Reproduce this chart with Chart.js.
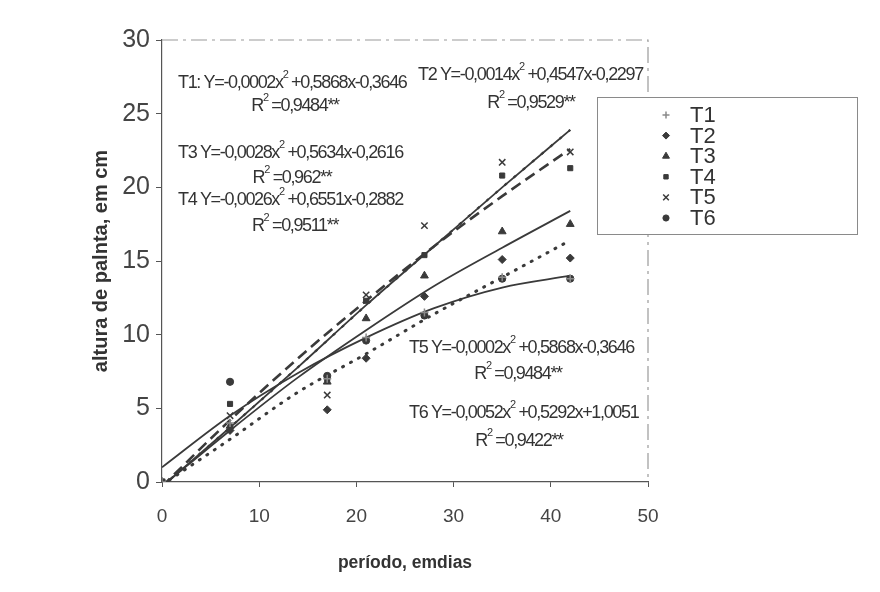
<!DOCTYPE html>
<html>
<head>
<meta charset="utf-8">
<script src="https://cdn.jsdelivr.net/npm/chart.js"></script>
<style>
  html, body { margin: 0; padding: 0; background: #fff; }
  #wrap { width: 880px; height: 592px; }
</style>
</head>
<body>
<div id="wrap"><canvas id="chart" width="880" height="592"></canvas></div>
<script>
// measured points (days after sowing)
const days = [0, 7, 17, 21, 27, 35, 42];
const t1 = [0, 4.0, 7.0, 9.8, 11.5, 13.9, 13.8];
const t2 = [0, 3.5, 4.9, 8.4, 12.6, 15.1, 15.2];
const t3 = [0, 3.8, 6.8, 11.1, 14.0, 17.0, 17.5];
const t4 = [0, 5.3, 7.0, 12.3, 15.4, 20.8, 21.3];
const t5 = [0, 4.5, 5.9, 12.7, 17.4, 21.7, 22.4];
const t6 = [0, 6.8, 7.2, 9.6, 11.3, 13.8, 13.8];

// trend curves
const fitDays = [0, 7, 14, 21, 28, 35, 42];
const fitT1 = [-0.3, 3.7, 7.8, 12.0, 16.0, 20.0, 23.9];
const fitT2 = [-0.2, 2.9, 6.1, 8.7, 11.4, 13.9, 16.4];
const fitT3 = [-0.3, 3.5, 7.1, 10.3, 13.3, 15.9, 18.4];
const fitT4 = [-0.3, 4.2, 8.4, 12.3, 16.0, 19.4, 22.6];
const fitT6 = [1.0, 4.5, 7.4, 9.8, 11.8, 13.2, 14.0];

const seriesNames = ['T1', 'T2', 'T3', 'T4', 'T5', 'T6'];
const yTicks = [0, 5, 10, 15, 20, 25, 30];
const xTicks = [0, 10, 20, 30, 40, 50];

const equations = [
  'T1: Y=-0,0002x^2 +0,5868x-0,3646',
  'T2 Y=-0,0014x^2 +0,4547x-0,2297',
  'T3 Y=-0,0028x^2 +0,5634x-0,2616',
  'T4 Y=-0,0026x^2 +0,6551x-0,2882',
  'T5 Y=-0,0002x^2 +0,5868x-0,3646',
  'T6 Y=-0,0052x^2 +0,5292x+1,0051'
];
const r2Labels = ['R^2 =0,9484**', 'R^2 =0,9529**', 'R^2 =0,962**', 'R^2 =0,9511**', 'R^2 =0,9484**', 'R^2 =0,9422**'];

const ink = '#3a3a3a';
const pts = (ys, xs) => ys.map((y, i) => ({ x: xs[i], y: y }));

const markerStyles = ['cross', 'rectRot', 'triangle', 'rect', 'crossRot', 'circle'];
const markerColors = ['#8a8a8a', ink, ink, ink, ink, ink];
const markerSizes = [4, 4, 4.5, 3.6, 4.5, 3.6];
const seriesData = [t1, t2, t3, t4, t5, t6];

const scatterSets = seriesNames.map((name, i) => ({
  label: name,
  data: pts(seriesData[i], days),
  showLine: false,
  pointStyle: markerStyles[i],
  pointRadius: markerSizes[i],
  pointBorderWidth: (i === 0 || i === 4) ? 1.5 : 1,
  pointBackgroundColor: markerColors[i],
  pointBorderColor: markerColors[i],
  order: 1
}));

const lineBase = { showLine: true, pointRadius: 0, fill: false, borderColor: ink, cubicInterpolationMode: 'monotone', order: 2 };
const fitSets = [
  Object.assign({ label: 'fitT1', data: pts(fitT1, fitDays), borderWidth: 1.8 }, lineBase),
  Object.assign({ label: 'fitT5', data: pts(fitT1, fitDays), borderWidth: 2.2, borderDash: [3, 9] }, lineBase),
  Object.assign({ label: 'fitT2', data: pts(fitT2, fitDays), borderWidth: 3, borderDash: [1, 8], borderCapStyle: 'round' }, lineBase),
  Object.assign({ label: 'fitT3', data: pts(fitT3, fitDays), borderWidth: 1.8 }, lineBase),
  Object.assign({ label: 'fitT4', data: pts(fitT4, fitDays), borderWidth: 2.6, borderDash: [11, 6] }, lineBase),
  Object.assign({ label: 'fitT6', data: pts(fitT6, fitDays), borderWidth: 1.8 }, lineBase)
];

const eqFont = '18px "Liberation Sans", Arial, sans-serif';
const supFont = '11px "Liberation Sans", Arial, sans-serif';

function drawRich(ctx, text, x, y, align) {
  const parts = text.split('^2');
  ctx.font = eqFont;
  let w = 0;
  parts.forEach((p, i) => {
    ctx.font = eqFont; w += ctx.measureText(p).width;
    if (i < parts.length - 1) { ctx.font = supFont; w += ctx.measureText('2').width; }
  });
  let cx = align === 'center' ? x - w / 2 : x;
  ctx.textBaseline = 'middle';
  ctx.textAlign = 'left';
  parts.forEach((p, i) => {
    ctx.font = eqFont; ctx.fillText(p, cx, y); cx += ctx.measureText(p).width;
    if (i < parts.length - 1) {
      ctx.font = supFont; ctx.fillText('2', cx, y - 8); cx += ctx.measureText('2').width;
    }
  });
}

const decorPlugin = {
  id: 'decor',
  beforeDatasetsDraw(chart) {
    const { ctx, chartArea: a } = chart;
    ctx.save();
    ctx.strokeStyle = '#9a9a9a';
    ctx.lineWidth = 1.2;
    ctx.setLineDash([16, 5, 3, 5]);
    ctx.beginPath();
    ctx.moveTo(a.left, a.top); ctx.lineTo(a.right, a.top); ctx.lineTo(a.right, a.bottom);
    ctx.stroke();
    ctx.restore();
  },
  afterDraw(chart) {
    const { ctx } = chart;
    ctx.save();
    ctx.fillStyle = '#333';
    ctx.letterSpacing = '-1.35px';
    // equation positions in pixels: [eqLeft, eqY, r2Center, r2Y]
    const pos = [[178, 83, 295, 106], [418, 75, 531, 103], [178, 153, 292, 178], [178, 200, 295, 226], [409, 348, 518, 374], [409, 413, 519, 441]];
    equations.forEach((eq, i) => {
      drawRich(ctx, eq, pos[i][0], pos[i][1], 'left');
      drawRich(ctx, r2Labels[i], pos[i][2], pos[i][3], 'center');
    });
    ctx.letterSpacing = '0px';
    // legend box
    const bx = 597, by = 97, bw = 260, bh = 137;
    ctx.fillStyle = '#fff';
    ctx.fillRect(bx, by, bw, bh);
    ctx.strokeStyle = '#8a8a8a';
    ctx.lineWidth = 1;
    ctx.setLineDash([]);
    ctx.strokeRect(bx + 0.5, by + 0.5, bw, bh);
    ctx.font = '22px "Liberation Sans", Arial, sans-serif';
    ctx.textBaseline = 'middle';
    ctx.textAlign = 'left';
    seriesNames.forEach((name, i) => {
      const yy = 115 + i * 20.6;
      ctx.fillStyle = markerColors[i];
      ctx.strokeStyle = markerColors[i];
      ctx.lineWidth = (i === 0 || i === 4) ? 1.5 : 1;
      Chart.helpers.drawPoint(ctx, { pointStyle: markerStyles[i], radius: markerSizes[i] - 0.5, rotation: 0, borderWidth: ctx.lineWidth }, 666, yy);
      ctx.fillStyle = '#333';
      ctx.fillText(name, 690, yy + 1);
    });
    ctx.restore();
  }
};

new Chart(document.getElementById('chart'), {
  type: 'scatter',
  data: { datasets: scatterSets.concat(fitSets) },
  options: {
    responsive: false,
    animation: false,
    layout: { padding: { left: 0, top: 40, right: 232, bottom: 0 } },
    plugins: { legend: { display: false }, tooltip: { enabled: false } },
    scales: {
      x: {
        type: 'linear', min: 0, max: 50,
        afterBuildTicks: s => { s.ticks = xTicks.map(v => ({ value: v })); },
        afterFit: s => { s.height = 110; },
        border: { color: '#555', width: 1.2 },
        grid: { drawOnChartArea: false, tickLength: 5, color: '#555' },
        ticks: { color: '#444', padding: 18, font: { family: '"Liberation Sans", Arial', size: 19 } },
        title: { display: true, text: 'período, emdias', color: '#333', padding: { top: 0, bottom: 18 },
          font: { family: '"Liberation Sans", Arial', size: 17.5, weight: 'bold' } }
      },
      y: {
        type: 'linear', min: 0, max: 30,
        afterBuildTicks: s => { s.ticks = yTicks.map(v => ({ value: v })); },
        afterFit: s => { s.width = 162; },
        border: { color: '#555', width: 1.2 },
        grid: { drawOnChartArea: false, tickLength: 6, color: '#555' },
        ticks: { color: '#444', padding: 6, font: { family: '"Liberation Sans", Arial', size: 25 } },
        title: { display: true, text: 'altura de palnta, em cm', color: '#333', padding: { top: 89, bottom: 0 },
          font: { family: '"Liberation Sans", Arial', size: 20, weight: 'bold' } }
      }
    }
  },
  plugins: [decorPlugin]
});
</script>
</body>
</html>
